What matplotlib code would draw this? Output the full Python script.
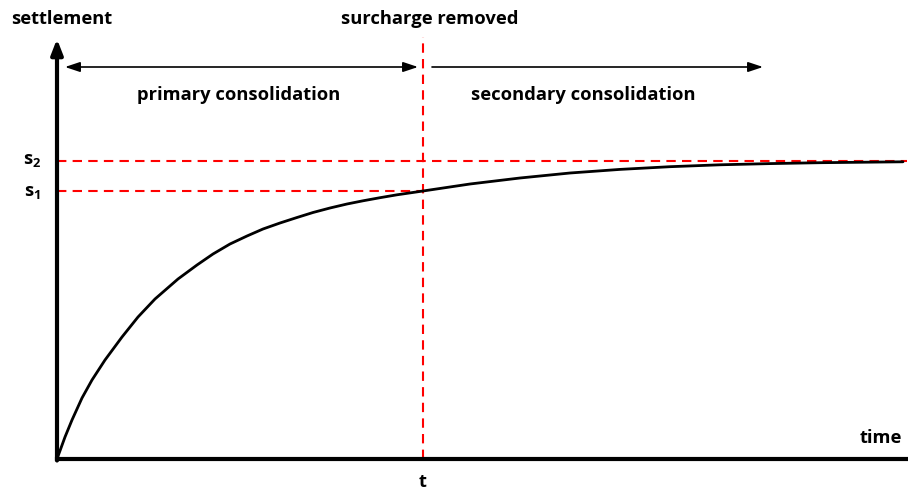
import matplotlib
matplotlib.use("Agg")
import matplotlib.pyplot as plt

plt.rcParams['font.family'] = ['Open Sans', 'DejaVu Sans']
plt.rcParams['mathtext.fontset'] = 'custom'
plt.rcParams['mathtext.bf'] = 'Open Sans:bold'
plt.rcParams['mathtext.rm'] = 'Open Sans'

# Settlement curve (time, settlement)
time = [0, 8, 15, 25, 35, 48, 65, 81, 98, 121, 140, 156, 173, 190, 206, 223,
        240, 256, 273, 290, 306, 323, 340, 366, 413, 463, 513, 563, 613, 663,
        713, 763, 846]
settlement = [0, 22, 39, 61, 79, 99, 122, 142, 160, 180, 194, 205, 215, 223, 230, 236,
              241.5, 246.5, 251, 255, 258.2, 261.3, 264.2, 268, 275, 281, 286, 289.6, 292.3, 294.2,
              295.4, 296.3, 297.2]

t_removed = 366
s1 = 268
s2 = 298
x_max = 850
y_max = 420

axis_labels = ["time", "settlement"]
tick_labels = {"t": "t", "s1": r"$\mathbf{s_1}$", "s2": r"$\mathbf{s_2}$"}
phase_labels = ["primary consolidation", "secondary consolidation"]
event_label = "surcharge removed"

fig = plt.figure(figsize=(9.08, 4.91), dpi=100)
ax = fig.add_axes([0, 0, 1, 1])
ax.set_xlim(-57, 851)
ax.set_ylim(-32, 459)
ax.axis('off')

red = '#FF0000'
dash = (4.5, 3)

# reference lines
ax.plot([0, x_max], [s2, s2], color=red, lw=1.5, dashes=dash, zorder=2)
ax.plot([0, t_removed], [s1, s1], color=red, lw=1.5, dashes=dash, zorder=2)
ax.plot([t_removed, t_removed], [0, 422], color=red, lw=1.5, dashes=dash, zorder=2)

# curve
ax.plot(time, settlement, color='black', lw=2.0, zorder=3,
        solid_capstyle='round', solid_joinstyle='round')

# axes
ax.plot([0, x_max], [0, 0], color='black', lw=3, zorder=4, solid_capstyle='projecting')
ax.annotate('', xy=(0, y_max), xytext=(0, -1.5),
            arrowprops=dict(arrowstyle='-|>,head_length=0.9,head_width=0.35', color='black',
                            lw=3, shrinkA=0, shrinkB=0), zorder=4)

# phase arrows
arr_y = 392
ax.annotate('', xy=(8, arr_y), xytext=(361, arr_y),
            arrowprops=dict(arrowstyle='<|-|>,head_length=0.9,head_width=0.3', color='black',
                            lw=1.2, shrinkA=0, shrinkB=0))
ax.annotate('', xy=(706, arr_y), xytext=(375, arr_y),
            arrowprops=dict(arrowstyle='-|>,head_length=0.9,head_width=0.3', color='black',
                            lw=1.2, shrinkA=0, shrinkB=0))

fs = 13.2
ax.text(182, 364, phase_labels[0], ha='center', va='center', fontsize=fs, fontweight='bold')
ax.text(526, 364, phase_labels[1], ha='center', va='center', fontsize=fs, fontweight='bold')
ax.text(373, 440, event_label, ha='center', va='center', fontsize=fs, fontweight='bold')
ax.text(-46, 440, axis_labels[1], ha='left', va='center', fontsize=fs, fontweight='bold')
ax.text(845, 21, axis_labels[0], ha='right', va='center', fontsize=fs, fontweight='bold')
ax.text(t_removed, -23, tick_labels["t"], ha='center', va='center', fontsize=fs, fontweight='bold')
ax.text(-25, s2 + 1, tick_labels["s2"], ha='center', va='center', fontsize=fs)
ax.text(-25, s1 - 1, tick_labels["s1"], ha='center', va='center', fontsize=fs)

fig.savefig('out.png', dpi=100)
